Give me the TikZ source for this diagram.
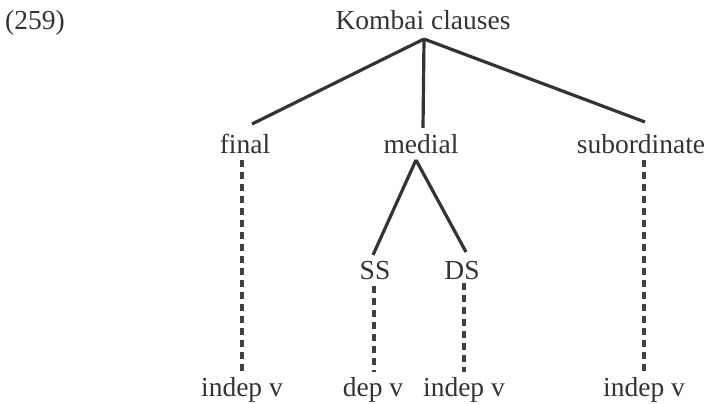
\documentclass[tikz,border=0pt]{standalone}
\usepackage{fontspec}
\setmainfont{Liberation Serif}
\begin{document}
\begin{tikzpicture}[x=1pt,y=-1pt,
  lbl/.style={anchor=base,inner sep=0pt,text=black!80,font=\fontsize{27.5}{30}\selectfont},
  branch/.style={draw=black!80,line width=3.2pt},
  dots/.style={draw=black!75,line width=3.4pt,dash pattern=on 7pt off 5pt}]
\useasboundingbox (0,0) rectangle (707,404);
% example number and root
\node[lbl] (num) at (35,30) {(259)};
\node[lbl] (root) at (423,30) {Kombai clauses};
% first level
\node[lbl] (final) at (245,153) {final};
\node[lbl] (medial) at (421,153) {medial};
\node[lbl] (sub) at (641,153) {subordinate};
% second level under medial
\node[lbl] (ss) at (375,279) {SS};
\node[lbl] (ds) at (462,279) {DS};
% verb types
\node[lbl] (v1) at (242,396) {indep v};
\node[lbl] (v2) at (373,396) {dep v};
\node[lbl] (v3) at (464,396) {indep v};
\node[lbl] (v4) at (644,396) {indep v};
% branch points
\coordinate (apex) at (424,39);
\coordinate (fTop) at (252,124);
\coordinate (mTop) at (423,128);
\coordinate (sTop) at (645,122);
\coordinate (medApex) at (416,160);
\coordinate (ssTop) at (373,255);
\coordinate (dsTop) at (466,252);
% solid branches
\draw[branch] (apex) -- (fTop);
\draw[branch] (apex) -- (mTop);
\draw[branch] (apex) -- (sTop);
\draw[branch] (medApex) -- (ssTop);
\draw[branch] (medApex) -- (dsTop);
% dashed links to verb types
\draw[dots,shorten <=7pt,shorten >=5pt] (final.south -| v1.north) -- (v1.north);
\draw[dots,shorten <=7pt,shorten >=5pt] (ss.south -| 374,0) -- (v2.north -| 374,0);
\draw[dots,shorten <=4pt,shorten >=5pt] (ds.south -| v3.north) -- (v3.north);
\draw[dots,shorten <=7pt,shorten >=4pt] (sub.south -| v4.north) -- (v4.north);
\end{tikzpicture}
\end{document}
